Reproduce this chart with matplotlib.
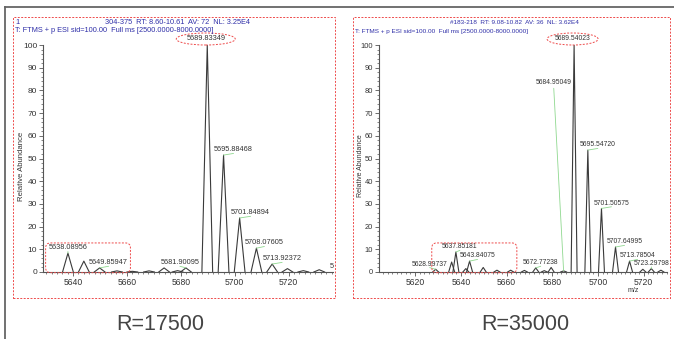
import matplotlib
matplotlib.use('Agg')
import matplotlib.pyplot as plt
from matplotlib.patches import Rectangle, Ellipse, FancyBboxPatch
from matplotlib.lines import Line2D
from matplotlib.ticker import MultipleLocator
from matplotlib.transforms import IdentityTransform

plt.rcParams['font.family'] = ['Liberation Sans', 'DejaVu Sans']

W, H = 674, 339

# ---------------- data ----------------
left_mz = [5638.09, 5644.0, 5649.86, 5656.3, 5662.0, 5668.2, 5673.8, 5678.8,
           5681.90, 5689.83, 5695.88, 5701.85, 5708.08, 5713.92, 5719.6,
           5725.5, 5731.4]
left_h = [8.3, 4.8, 1.8, 0.5, 0.3, 0.5, 1.8, 0.6, 1.8, 100, 51.5, 23.8,
          10.5, 3.5, 1.5, 0.6, 1.0]

right_mz = [5629.0, 5636.0, 5637.85, 5642.2, 5643.84, 5649.8, 5655.8, 5661.8,
            5667.8, 5672.77, 5676.5, 5679.5, 5684.95, 5689.54, 5695.55,
            5701.51, 5707.65, 5713.79, 5719.6, 5723.30, 5727.5]
right_h = [1.2, 4.4, 8.8, 1.5, 4.8, 2.0, 0.8, 0.8, 0.7, 1.8, 0.6, 2.0, 0.5,
           100, 53.7, 28, 11, 4.8, 1.2, 1.5, 0.8]

left_label_text = ["5695.88468", "5701.84894", "5708.07605", "5713.92372",
                   "5638.08956", "5649.85947", "5681.90095"]
left_label_mz = [5695.88, 5701.85, 5708.08, 5713.92, 5638.09, 5649.86, 5681.90]
left_label_h = [51.5, 23.8, 10.5, 3.5, 8.3, 1.8, 1.8]
left_label_dx = [10, 11, 8, 10, 0, 9, -6]

right_label_text = ["5695.54720", "5701.50575", "5707.64995", "5713.78504",
                    "5723.29798", "5637.85181", "5643.84075", "5628.99737",
                    "5672.77238"]
right_label_mz = [5695.55, 5701.51, 5707.65, 5713.79, 5723.30, 5637.85,
                  5643.84, 5629.0, 5672.77]
right_label_h = [53.7, 28, 11, 4.8, 1.5, 8.8, 4.8, 1.2, 1.8]
right_label_dx = [10, 10, 9, 8, 0, 4, 8, -6, 5]

left_xticks = [5640, 5660, 5680, 5700, 5720]
right_xticks = [5620, 5640, 5660, 5680, 5700, 5720]
yticks = [0, 10, 20, 30, 40, 50, 60, 70, 80, 90, 100]

# ---------------- figure ----------------
fig = plt.figure(figsize=(W / 100, H / 100), dpi=100)
fig.patch.set_facecolor('white')


def fx(x):
    return x / W


def fy(y):
    return 1 - y / H


BLUE = '#2f2fa8'
RED = '#ee4b4b'
GREEN = '#8fd88f'
LINE = '#3a3a3a'
TXT = '#333333'

# gray frame
fig.add_artist(Line2D([fx(5), fx(674)], [fy(7), fy(7)], color='#666666', lw=1.3,
                      transform=fig.transFigure))
fig.add_artist(Line2D([fx(5), fx(5)], [fy(7), fy(339)], color='#666666', lw=1.3,
                      transform=fig.transFigure))

# red dashed panel boxes
for (x0, x1) in [(13, 335), (353, 670)]:
    fig.add_artist(Rectangle((fx(x0), fy(298)), (x1 - x0) / W, (298 - 17) / H,
                             fill=False, ec=RED, lw=0.7, ls=(0, (2, 1.5)),
                             transform=fig.transFigure))


def make_axes(left_px, right_px, xlim, xticks, mz, h, hw, ylab):
    ax = fig.add_axes([fx(left_px), fy(272), (right_px - left_px) / W, 227 / H])
    ax.set_xlim(*xlim)
    ax.set_ylim(0, 100)
    for m, v in zip(mz, h):
        ax.plot([m - hw, m, m + hw], [0, v, 0], color=LINE, lw=0.8)
    ax.spines['top'].set_visible(False)
    ax.spines['right'].set_visible(False)
    for s in ('left', 'bottom'):
        ax.spines[s].set_color('#555555')
        ax.spines[s].set_linewidth(0.8)
    ax.set_xticks(xticks)
    ax.set_yticks(yticks)
    ax.xaxis.set_minor_locator(MultipleLocator(2))
    ax.yaxis.set_minor_locator(MultipleLocator(2))
    ax.tick_params(which='major', direction='out', length=3, width=0.6,
                   color='#555555', labelsize=6.2, labelcolor=TXT, pad=1.5)
    ax.tick_params(axis='y', which='major', labelsize=ylab, pad=1.2)
    ax.tick_params(which='minor', direction='out', length=1.6, width=0.5,
                   color='#555555')
    ax.set_facecolor('none')
    return ax


axL = make_axes(43, 333, (5628.83, 5736.52), left_xticks, left_mz, left_h, 2.0, 6.0)
axR = make_axes(379, 667, (5604.23, 5730.16), right_xticks, right_mz, right_h, 1.3, 5.4)


def labels(ax, texts, mzs, hs, dxs, size):
    for t, m, v, dx in zip(texts, mzs, hs, dxs):
        ax.annotate(t, xy=(m, v), xytext=(dx * 0.72, 1.2),
                    textcoords='offset points', ha='center', va='bottom',
                    fontsize=size, color=TXT, annotation_clip=False,
                    arrowprops=dict(arrowstyle='-', color=GREEN, lw=0.6,
                                    shrinkA=0, shrinkB=0, relpos=(0.5, 0)))


labels(axL, left_label_text, left_label_mz, left_label_h, left_label_dx, 5.3)
labels(axR, right_label_text, right_label_mz, right_label_h, right_label_dx, 4.9)

# long leader label in right panel
axR.annotate("5684.95049", xy=(5684.95, 0.5), xytext=(5684.95 - 10 / 2.287, 83.7),
             textcoords='data', ha='center', va='center', fontsize=4.9, color=TXT,
             arrowprops=dict(arrowstyle='-', color=GREEN, lw=0.6, shrinkA=0,
                             shrinkB=0, relpos=(0.5, 0)))

# main peak labels with dashed ellipse
fig.canvas.draw()
for ax, t, m, size, ew in [(axL, "5689.83349", 5689.83, 5.3, 59),
                           (axR, "5689.54023", 5689.54, 4.9, 51)]:
    ax.annotate(t, xy=(m, 100), xytext=(-1.5 * 0.72, 6 * 0.72),
                textcoords='offset points', ha='center', va='center',
                fontsize=size, color=TXT, annotation_clip=False)
    xd, yd = ax.transData.transform((m, 100))
    fig.add_artist(Ellipse((xd - 1.5, yd + 6), ew, 12, fill=False, ec=RED,
                           lw=0.7, ls=(0, (2, 1.5)), transform=IdentityTransform()))

# rounded dashed boxes around small-peak regions
for ax, (m0, m1) in [(axL, (5629.8, 5661.3)), (axR, (5627.3, 5664.5))]:
    x0, y0 = ax.transData.transform((m0, -0.3))
    x1, y1 = ax.transData.transform((m1, 12.8))
    fig.add_artist(FancyBboxPatch((x0, y0), x1 - x0, y1 - y0,
                                  boxstyle='round,pad=0,rounding_size=5',
                                  fill=False, ec=RED, lw=0.7, ls=(0, (2, 1.5)),
                                  transform=IdentityTransform()))

# header texts
fig.text(fx(15), fy(23), "1", fontsize=5.3, color=BLUE, va='center', ha='left')
fig.text(fx(105), fy(23), "304-375  RT: 8.60-10.61  AV: 72  NL: 3.25E4",
         fontsize=5.3, color=BLUE, va='center', ha='left')
fig.text(fx(15), fy(31), "T: FTMS + p ESI sid=100.00  Full ms [2500.0000-8000.0000]",
         fontsize=5.3, color=BLUE, va='center', ha='left')
fig.text(fx(450), fy(23), "#183-218  RT: 9.08-10.82  AV: 36  NL: 3.62E4",
         fontsize=4.6, color=BLUE, va='center', ha='left')
fig.text(fx(355), fy(31), "T: FTMS + p ESI sid=100.00  Full ms [2500.0000-8000.0000]",
         fontsize=4.6, color=BLUE, va='center', ha='left')

# axis titles
fig.text(fx(21.5), fy(166), "Relative Abundance", rotation=90, fontsize=5.6,
         color=TXT, ha='center', va='center')
fig.text(fx(360), fy(166), "Relative Abundance", rotation=90, fontsize=5.0,
         color=TXT, ha='center', va='center')
fig.text(fx(633), fy(291), "m/z", fontsize=5, color=TXT, ha='center', va='center')
fig.text(fx(330), fy(267), "5", fontsize=5.3, color=TXT, ha='left', va='center')

# resolution captions
for x, t in [(160, "R=17500"), (525, "R=35000")]:
    fig.text(fx(x), fy(325), t, fontsize=15.5, color='#444444', ha='center',
             va='center')

fig.savefig('out.png', dpi=100)
